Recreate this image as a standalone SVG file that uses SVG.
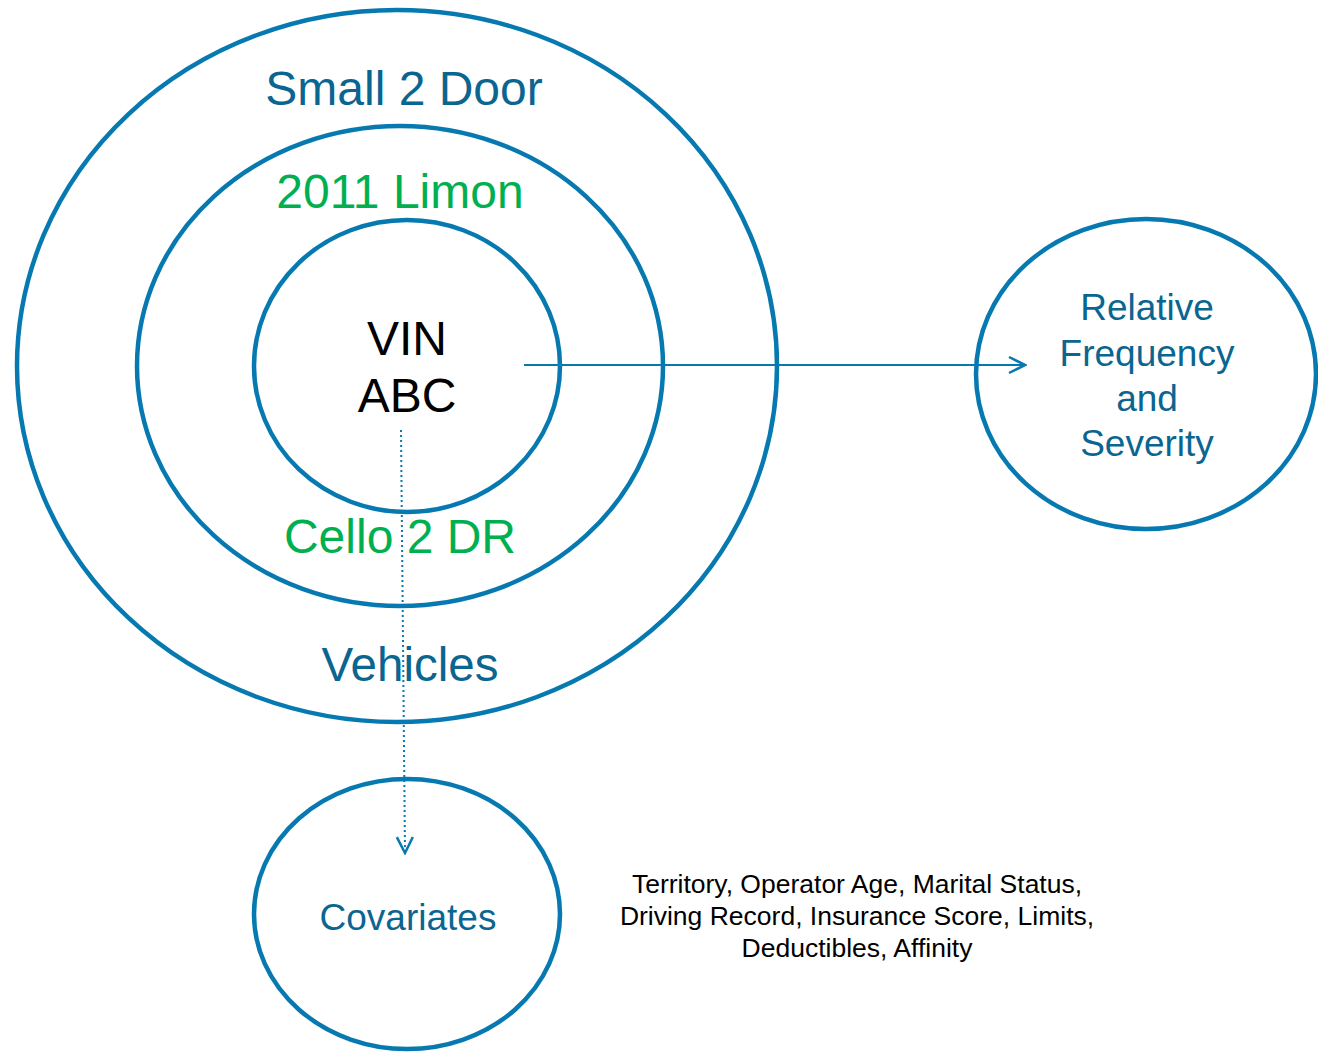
<svg xmlns="http://www.w3.org/2000/svg" width="1318" height="1053" viewBox="0 0 1318 1053">
<style>
.ring{fill:none;stroke:#0779b1;stroke-width:4.5}
.t{font-family:"Liberation Sans",Arial,sans-serif;text-anchor:middle}
.blue{fill:#0a6690}
.green{fill:#00b050}
.blk{fill:#000}
.conn{fill:none;stroke:#0779b1;stroke-width:2}
</style>
<defs>
<marker id="arr" viewBox="0 0 20 20" refX="18" refY="10" markerWidth="20" markerHeight="20" markerUnits="userSpaceOnUse" orient="auto">
<path d="M2,2 L18,10 L2,18" fill="none" stroke="#0779b1" stroke-width="2.5"/>
</marker>
</defs>
<g id="vehicles">
<ellipse class="ring" cx="397" cy="366" rx="380" ry="356"/>
<text class="t blue" x="404" y="105" font-size="48">Small 2 Door</text>
<text class="t blue" x="410" y="681" font-size="47.5">Vehicles</text>
</g>
<g id="model">
<ellipse class="ring" cx="400" cy="366" rx="263" ry="240"/>
<text class="t green" x="400" y="208" font-size="48">2011 Limon</text>
<text class="t green" x="400" y="553" font-size="48">Cello 2 DR</text>
</g>
<g id="vin">
<ellipse class="ring" cx="407" cy="366" rx="153" ry="146"/>
<text class="t blk" x="407" y="355" font-size="48">VIN</text>
<text class="t blk" x="407" y="412" font-size="48">ABC</text>
</g>
<g id="relative">
<ellipse class="ring" cx="1146" cy="374" rx="170" ry="155"/>
<text class="t blue" x="1147" y="320" font-size="37">Relative</text>
<text class="t blue" x="1147" y="366" font-size="37">Frequency</text>
<text class="t blue" x="1147" y="411" font-size="37">and</text>
<text class="t blue" x="1147" y="456" font-size="37">Severity</text>
</g>
<g id="covariates">
<ellipse class="ring" cx="407" cy="914" rx="153" ry="135"/>
<text class="t blue" x="408" y="930" font-size="37">Covariates</text>
</g>
<g id="covlist">
<text class="t blk" x="857" y="893" font-size="26.5">Territory, Operator Age, Marital Status,</text>
<text class="t blk" x="857" y="925" font-size="26.5">Driving Record, Insurance Score, Limits,</text>
<text class="t blk" x="857" y="957" font-size="26.5">Deductibles, Affinity</text>
</g>
<g id="connectors">
<line class="conn" x1="524" y1="365" x2="1025" y2="365" marker-end="url(#arr)"/>
<line class="conn" x1="401" y1="430" x2="405" y2="853" stroke-dasharray="2,3" marker-end="url(#arr)"/>
</g>
</svg>
